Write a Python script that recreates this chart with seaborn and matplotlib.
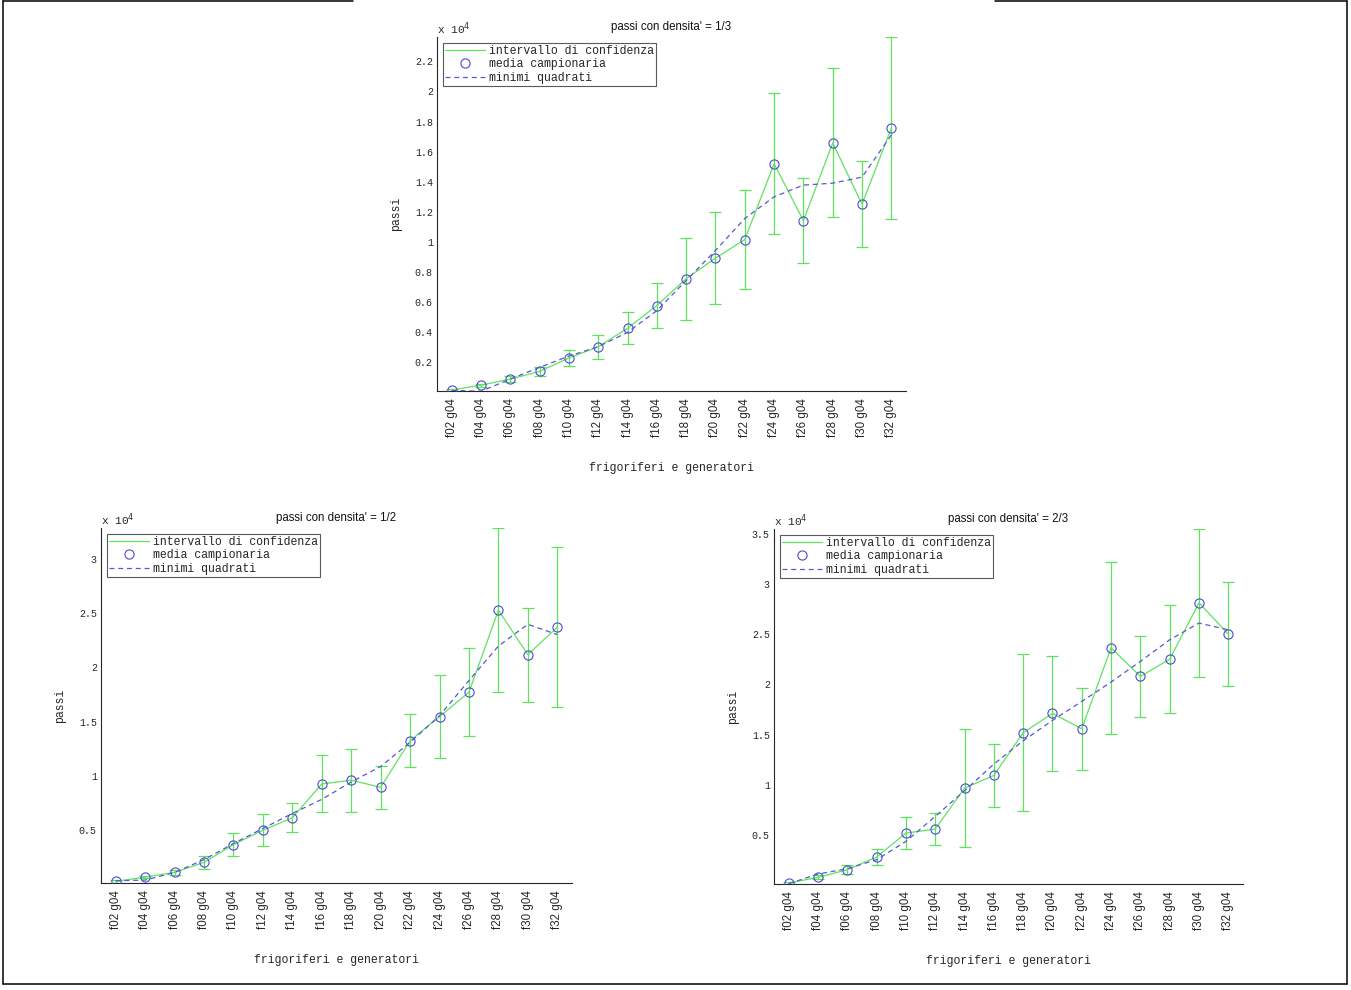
import numpy as np
import matplotlib
matplotlib.use("Agg")
import matplotlib.pyplot as plt
from matplotlib.lines import Line2D
from matplotlib.ticker import FuncFormatter
import seaborn as sns

# ---------------- data (values in units of 10^4 passi) ----------------
cats = ['f02 g04', 'f04 g04', 'f06 g04', 'f08 g04', 'f10 g04', 'f12 g04',
        'f14 g04', 'f16 g04', 'f18 g04', 'f20 g04', 'f22 g04', 'f24 g04',
        'f26 g04', 'f28 g04', 'f30 g04', 'f32 g04']

# densita' = 1/3
mean13 = [0.016, 0.049, 0.089, 0.140, 0.229, 0.304, 0.427, 0.578,
          0.756, 0.893, 1.016, 1.520, 1.142, 1.658, 1.251, 1.756]
err13 = [0.006, 0.010, 0.018, 0.032, 0.054, 0.080, 0.105, 0.151,
         0.273, 0.303, 0.327, 0.469, 0.281, 0.495, 0.287, 0.606]
ls13 = [0.014, 0.008, 0.089, 0.167, 0.242, 0.304, 0.400, 0.544,
        0.744, 0.944, 1.156, 1.300, 1.378, 1.391, 1.431, 1.711]

# densita' = 1/2
mean12 = [0.022, 0.062, 0.105, 0.198, 0.362, 0.495, 0.610, 0.923,
          0.957, 0.892, 1.322, 1.545, 1.771, 2.529, 2.118, 2.372]
err12 = [0.015, 0.012, 0.020, 0.060, 0.108, 0.150, 0.136, 0.264,
         0.290, 0.200, 0.243, 0.384, 0.405, 0.760, 0.435, 0.741]
ls12 = [0.028, 0.034, 0.105, 0.223, 0.372, 0.511, 0.650, 0.780,
        0.941, 1.084, 1.307, 1.554, 1.879, 2.198, 2.399, 2.303]

# densita' = 2/3
mean23 = [0.022, 0.078, 0.154, 0.280, 0.519, 0.559, 0.967, 1.093,
          1.518, 1.710, 1.558, 2.364, 2.079, 2.251, 2.812, 2.500]
err23 = [0.010, 0.020, 0.046, 0.080, 0.160, 0.160, 0.590, 0.310,
         0.780, 0.570, 0.410, 0.855, 0.400, 0.537, 0.735, 0.520]
ls23 = [0.015, 0.111, 0.164, 0.254, 0.436, 0.685, 0.940, 1.206,
        1.438, 1.641, 1.830, 2.023, 2.229, 2.444, 2.610, 2.543]

titles = ["passi con densita' = 1/3", "passi con densita' = 1/2",
          "passi con densita' = 2/3"]
yticks13 = [0.2, 0.4, 0.6, 0.8, 1.0, 1.2, 1.4, 1.6, 1.8, 2.0, 2.2]
yticks12 = [0.5, 1.0, 1.5, 2.0, 2.5, 3.0]
yticks23 = [0.5, 1.0, 1.5, 2.0, 2.5, 3.0, 3.5]
legend_labels = ['intervallo di confidenza', 'media campionaria', 'minimi quadrati']
xlabel = 'frigoriferi e generatori'
ylabel = 'passi'

# ---------------- style ----------------
sns.set_theme(style="white")
plt.rcParams['font.family'] = ['Liberation Mono', 'DejaVu Sans']
plt.rcParams['axes.linewidth'] = 0.8

GREEN = '#5fe35f'
BLUE = '#4b4bd0'
DASH = '#5858d0'
AXC = '#262626'
MONO = ['Liberation Mono', 'DejaVu Sans']
SANS = ['Liberation Sans', 'DejaVu Sans']

fig = plt.figure(figsize=(13.51, 9.90), dpi=100)
W, H = 1351.0, 990.0


def add_axes_px(x0, y0, x1, y1):
    return fig.add_axes([x0 / W, 1 - y1 / H, (x1 - x0) / W, (y1 - y0) / H])


def draw(ax, mean, err, ls, yticks, title):
    x = np.arange(len(cats))
    mean = np.asarray(mean)
    err = np.asarray(err)
    ax.errorbar(x, mean, yerr=err, color=GREEN, lw=0.9, elinewidth=0.9,
                capsize=4.3, capthick=0.9, zorder=2)
    sns.lineplot(x=x, y=mean, ax=ax, marker='o', linestyle='', ms=6.6,
                 mfc='none', mec=BLUE, mew=0.8, errorbar=None, zorder=3)
    sns.lineplot(x=x, y=ls, ax=ax, color=DASH, lw=0.9,
                 linestyle=(0, (4, 3)), errorbar=None, zorder=4)

    ax.set_xlim(-0.5, len(cats) - 0.5)
    ax.set_ylim((mean - err).min(), (mean + err).max())
    ax.set_xticks(x)
    ax.set_xticklabels(cats, rotation=90, family=SANS, fontsize=8.3,
                       color=AXC)
    ax.set_yticks(yticks)
    ax.yaxis.set_major_formatter(FuncFormatter(lambda v, p: f'{round(v, 3):g}'))
    for lab in ax.get_yticklabels():
        lab.set_family(MONO)
        lab.set_fontsize(7.2)
        lab.set_color(AXC)
    ax.tick_params(axis='both', direction='in', length=4, width=0.8,
                   colors=AXC)
    ax.tick_params(axis='x', pad=5)
    ax.tick_params(axis='y', pad=3)
    for s in ['top', 'right']:
        ax.spines[s].set_visible(False)
    for s in ['left', 'bottom']:
        ax.spines[s].set_color(AXC)
        ax.spines[s].set_linewidth(0.8)

    ax.set_title(title, family=SANS, fontsize=8.3, pad=5, color='#111111')
    ax.set_xlabel(xlabel, family=MONO, fontsize=8.3, labelpad=18, color=AXC)
    ax.set_ylabel(ylabel, family=MONO, fontsize=8.3, labelpad=9, color=AXC)
    ax.text(0.0, 1.0, 'x 10$^{4}$', transform=ax.transAxes, ha='left',
            va='bottom', family=MONO, fontsize=8.0, color=AXC)

    handles = [Line2D([], [], color=GREEN, lw=0.9),
               Line2D([], [], color=BLUE, marker='o', ls='', ms=6.6,
                      mfc='none', mew=0.8),
               Line2D([], [], color=DASH, lw=0.9, linestyle=(0, (4, 3)))]
    leg = ax.legend(handles, legend_labels, loc='upper left',
                    prop={'family': 'Liberation Mono', 'size': 8.3},
                    frameon=True, fancybox=False, framealpha=1,
                    edgecolor='#5a5a5a', handlelength=3.5,
                    handletextpad=0.3, labelspacing=0.12, borderpad=0.2,
                    borderaxespad=0.5, numpoints=1)
    leg.get_frame().set_linewidth(0.8)
    for t in leg.get_texts():
        t.set_color(AXC)


ax1 = add_axes_px(437, 37, 906, 391)
draw(ax1, mean13, err13, ls13, yticks13, titles[0])

ax2 = add_axes_px(101, 528, 572, 883)
draw(ax2, mean12, err12, ls12, yticks12, titles[1])

ax3 = add_axes_px(774, 529, 1243, 884)
draw(ax3, mean23, err23, ls23, yticks23, titles[2])

# outer frame of the page
def fline(x0, y0, x1, y1):
    fig.add_artist(Line2D([x0 / W, x1 / W], [1 - y0 / H, 1 - y1 / H],
                          transform=fig.transFigure, color='black', lw=1.1))

fline(3, 1, 353, 1)
fline(995, 1, 1347, 1)
fline(3, 1, 3, 984)
fline(1347, 1, 1347, 984)
fline(3, 984, 1347, 984)

fig.savefig('out.png', dpi=100)
